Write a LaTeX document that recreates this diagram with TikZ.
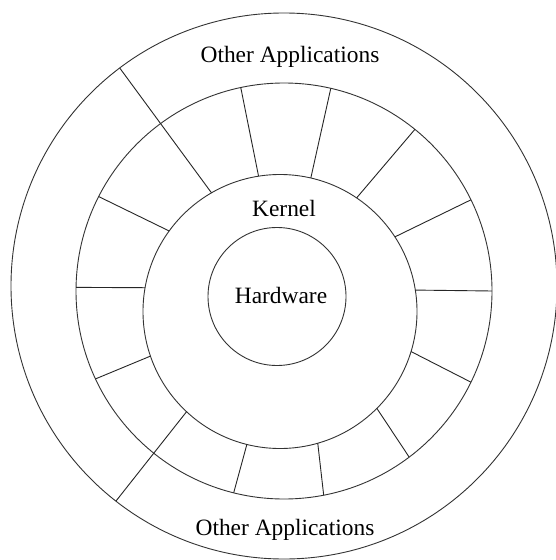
\documentclass[tikz,border=0pt]{standalone}
\usepackage{fontspec}
\setmainfont{Liberation Serif}
\begin{document}
\begin{tikzpicture}[x=1bp,y=-1bp,
  ring/.style={circle,draw=black!80,line width=0.9bp,inner sep=0pt,outer sep=0pt,minimum size=#1},
  spoke/.style={draw=black!85,line width=0.9bp},
  label/.style={font=\fontsize{23.5}{28}\selectfont,inner sep=0pt,anchor=base}]
  \useasboundingbox (0,0) rectangle (556,560);
  \clip (0,0) rectangle (556,560);
  \fill[white] (0,0) rectangle (556,560);

  % concentric layers
  \node[ring=546bp] (outer) at (284,286) {};
  \node[ring=416bp] (shell) at (284,291) {};
  \node[ring=274bp] (kernel) at (280,311.5) {};
  \node[ring=138bp] (hw) at (277,296.5) {};

  % partitions of the application shell
  \draw[spoke] (kernel.9.4)   -- (shell.0.5);
  \draw[spoke] (kernel.33.4)  -- (shell.26.2);
  \draw[spoke] (kernel.56.3)  -- (shell.51.3);
  \draw[spoke] (kernel.77.4)  -- (shell.77.6);
  \draw[spoke] (kernel.99.2)  -- (shell.102.9);
  \draw[spoke] (kernel.120.9) -- (outer.127.9);
  \draw[spoke] (kernel.144.9) -- (shell.153.7);
  \draw[spoke] (kernel.170.6) -- (shell.179.4);
  \draw[spoke] (kernel.199.2) -- (shell.205.7);
  \draw[spoke] (kernel.227.8) -- (outer.232.6);
  \draw[spoke] (kernel.256.9) -- (shell.256.8);
  \draw[spoke] (kernel.286.5) -- (shell.281.6);
  \draw[spoke] (kernel.315.1) -- (shell.307.9);
  \draw[spoke] (kernel.343.1) -- (shell.334.6);

  % labels
  \node[label] (apptop) at (290,63) {Other Applications};
  \node[label] (appbot) at (285,535) {Other Applications};
  \node[label] (klabel) at (284,217) {Kernel};
  \node[label] (hlabel) at (281,303) {Hardware};
\end{tikzpicture}
\end{document}
